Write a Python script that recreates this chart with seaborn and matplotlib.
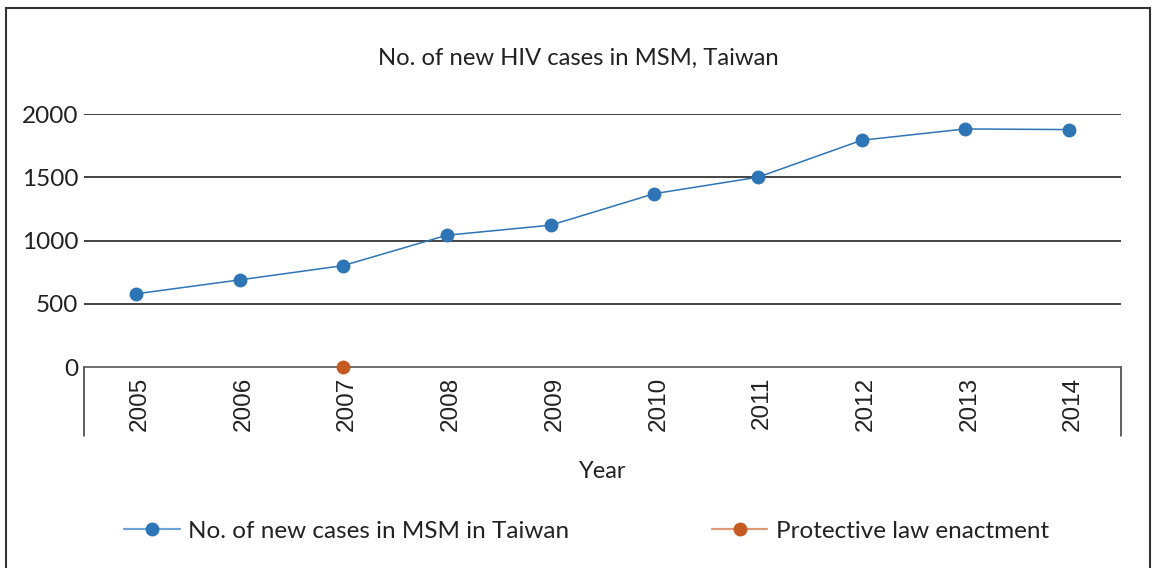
import matplotlib
matplotlib.use("Agg")
import matplotlib.pyplot as plt
import matplotlib.transforms as mtransforms
import seaborn as sns
import numpy as np
import pandas as pd
from matplotlib.lines import Line2D
from matplotlib.patches import Rectangle

years = ["2005", "2006", "2007", "2008", "2009", "2010", "2011", "2012", "2013", "2014"]
new_cases = [580, 690, 803, 1043, 1122, 1371, 1501, 1793, 1882, 1877]
law_year = ["2007"]
law_value = [0]
y_ticks = [0, 500, 1000, 1500, 2000]

title = "No. of new HIV cases in MSM, Taiwan"
x_label = "Year"
series_labels = ["No. of new cases in MSM in Taiwan", "Protective law enactment"]

blue = "#2E75B6"
orange = "#C55A22"

sns.set_theme(style="white")
plt.rcParams["font.family"] = ["Lato", "DejaVu Sans"]

W, H = 1154, 568
fig = plt.figure(figsize=(W / 100, H / 100), dpi=100)
fig.patch.set_facecolor("white")

ax_left, ax_right, ax_top, ax_bot = 84, 1121, 114, 367.3
ax = fig.add_axes([ax_left / W, 1 - ax_bot / H, (ax_right - ax_left) / W, (ax_bot - ax_top) / H])
ax.set_facecolor("none")

pos = np.arange(len(years))
df = pd.DataFrame({"pos": pos, "cases": new_cases})
sns.lineplot(data=df, x="pos", y="cases", ax=ax, color=blue, linewidth=1.1,
             marker="o", markersize=10, markeredgewidth=0, zorder=5)

law_pos = [years.index(y) for y in law_year]
df2 = pd.DataFrame({"pos": law_pos, "val": law_value})
sns.lineplot(data=df2, x="pos", y="val", ax=ax, color=orange, linewidth=0,
             marker="o", markersize=10, markeredgewidth=0, zorder=6)
for l in ax.lines:
    l.set_clip_on(False)

ax.set_xlim(-0.5, len(years) - 0.5)
ax.set_ylim(0, 2000)
ax.set_yticks(y_ticks)
ax.set_yticklabels([str(v) for v in y_ticks], fontsize=17.5, color="#222222")
ax.set_xticks(pos)
ax.set_xticklabels(years, rotation=90, fontsize=17.5, family=["Liberation Sans", "DejaVu Sans"], color="#222222")
ax.tick_params(axis="both", length=0)
ax.tick_params(axis="x", pad=7)
ax.tick_params(axis="y", pad=4)
shift = mtransforms.ScaledTranslation(4 / 100, 0, fig.dpi_scale_trans)
for lbl in ax.get_xticklabels():
    lbl.set_transform(lbl.get_transform() + shift)

for v in y_ticks[1:]:
    ax.axhline(v, color="#111111", linewidth=1.1, zorder=1)

for s in ["top", "right", "left"]:
    ax.spines[s].set_visible(False)
ax.spines["bottom"].set_color("#555555")
ax.spines["bottom"].set_linewidth(1.2)

# vertical side lines below the axis
drop = (436 - ax_bot) / (ax_bot - ax_top)
for xa in [0, 1]:
    ax.add_line(Line2D([xa, xa], [0, -drop], transform=ax.transAxes, color="#333333",
                       linewidth=1.1, clip_on=False))

ax.set_xlabel(x_label, fontsize=17, color="#222222")
ax.xaxis.set_label_coords(0.5, -(472 - ax_bot) / (ax_bot - ax_top))
ax.xaxis.label.set_va("center")
ax.set_ylabel("")

fig.text(578 / W, 1 - 58 / H, title, ha="center", va="center", fontsize=17.2, color="#222222")

handles = [
    Line2D([], [], color="#6FA3D6", marker="o", markersize=10, markeredgewidth=0,
           markerfacecolor=blue, linewidth=1.6),
    Line2D([], [], color="#DC9A78", marker="o", markersize=10, markeredgewidth=0,
           markerfacecolor=orange, linewidth=1.6),
]
leg = fig.legend(handles, series_labels, loc="center", bbox_to_anchor=(586.5 / W, 1 - 531 / H),
                 ncol=2, frameon=False, fontsize=17.5, handlelength=2.3, handletextpad=0.33,
                 columnspacing=5.85, labelcolor="#222222", borderpad=0, borderaxespad=0)

fig.add_artist(Rectangle((6 / W, -0.05), (1150 - 6) / W, 1.05 - 8 / H, transform=fig.transFigure,
                         fill=False, edgecolor="#333333", linewidth=1.5))

fig.savefig("out.png", dpi=100, facecolor="white")
